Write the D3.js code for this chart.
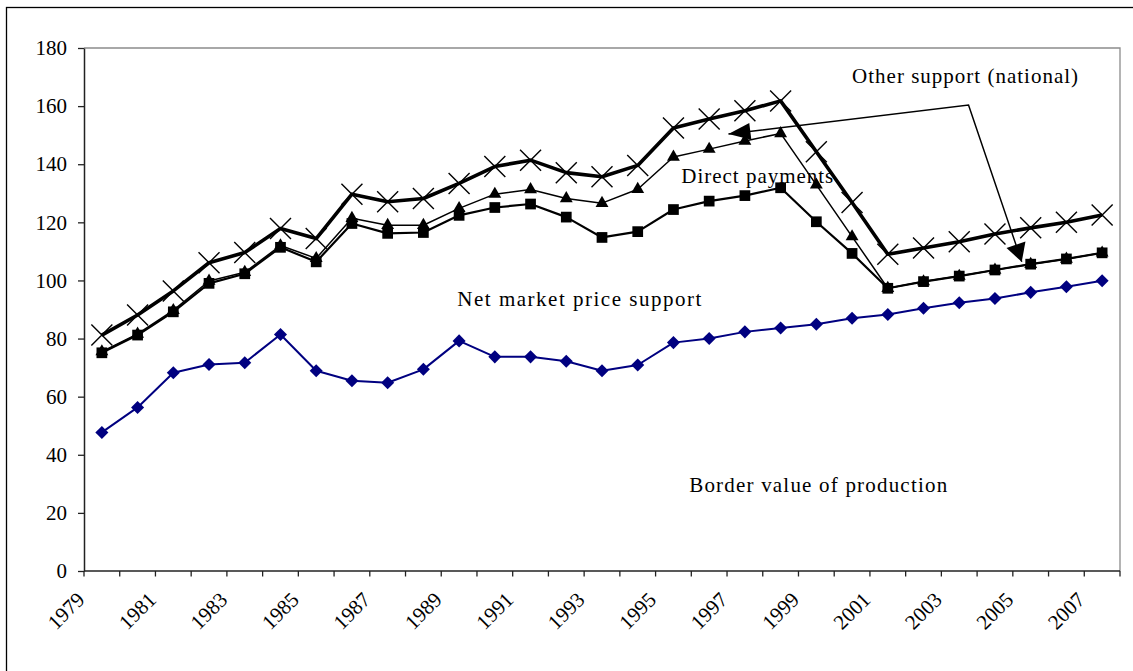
<!DOCTYPE html>
<html>
<head>
<meta charset="utf-8">
<script src="https://cdn.jsdelivr.net/npm/d3@7/dist/d3.min.js"></script>
<style>
  html, body { margin: 0; padding: 0; background: #fff; }
  svg { display: block; }
  text { font-family: "Liberation Serif", "Times New Roman", serif; fill: #000; }
</style>
</head>
<body>
<svg id="chart" width="1133" height="671"></svg>
<script>
// ---- Data ----
const years = d3.range(1979, 2008).map(String);
const tickLabels = years.filter((y, i) => i % 2 === 0);
const yTicks = [0, 20, 40, 60, 80, 100, 120, 140, 160, 180];

const borderValue = [47.7, 56.3, 68.2, 71.1, 71.7, 81.4, 68.9, 65.5, 64.8, 69.4,
  79.2, 73.7, 73.7, 72.2, 68.9, 70.9, 78.6, 80.0, 82.3, 83.6,
  84.9, 87.0, 88.3, 90.4, 92.3, 93.8, 95.9, 97.8, 99.9];
const netMarketPrice = [75.1, 81.2, 89.2, 99.0, 102.3, 111.4, 106.4, 119.6, 116.2, 116.5,
  122.4, 125.1, 126.3, 121.8, 114.8, 116.8, 124.4, 127.3, 129.2, 131.9,
  120.2, 109.3, 97.3, 99.6, 101.5, 103.6, 105.6, 107.4, 109.5];
const directPayments = [75.5, 81.6, 89.7, 99.8, 102.8, 112.0, 107.6, 121.4, 119.0, 119.0,
  124.8, 129.7, 131.3, 128.2, 126.6, 131.4, 142.5, 145.2, 148.0, 150.6,
  132.9, 115.1, 97.3, 99.6, 101.5, 103.6, 105.6, 107.4, 109.5];
const otherSupport = [81.2, 88.1, 96.4, 106.1, 109.6, 117.9, 114.4, 129.7, 127.1, 128.2,
  133.4, 139.2, 141.4, 137.1, 135.7, 139.6, 152.5, 155.6, 158.4, 161.8,
  144.3, 126.8, 109.0, 111.2, 113.3, 116.0, 118.1, 120.0, 122.5];

// Annotation labels (x: category index position, y: value)
const labels = [
  { text: "Other support (national)", x: 21.0, y: 167.8, len: 226 },
  { text: "Direct payments", x: 16.22, y: 133.6, len: 152 },
  { text: "Net market price support", x: 9.95, y: 91.2, len: 244 },
  { text: "Border value of production", x: 16.44, y: 27.3, len: 258 }
];
// Arrow path (category index, value) from "Other support" label
const arrowPts = [[17.54, 150.4], [24.26, 160.4], [25.75, 106.4]];

// ---- Layout ----
const svg = d3.select("#chart");
const L = 84, R = 1120, T = 48, B = 571;

// outer frame
svg.append("rect").attr("x", 6.5).attr("y", 7.5).attr("width", 1300).attr("height", 900)
  .attr("fill", "none").attr("stroke", "#000").attr("stroke-width", 1.3);

const x = d3.scaleBand().domain(years).range([L, R]).padding(0);
const y = d3.scaleLinear().domain([0, 180]).range([B, T]);
const xc = d => x(d) + x.bandwidth() / 2;
const xi = i => L + (i + 0.5) * x.bandwidth();

// plot area top/right border (gray)
svg.append("path").attr("d", `M${L},${T}H${R}V${B}`).attr("fill", "none")
  .attr("stroke", "#8c8c8c").attr("stroke-width", 1.3);

// Y axis
const yAxis = svg.append("g").attr("transform", `translate(${L},0)`)
  .call(d3.axisLeft(y).tickValues(yTicks).tickSize(6).tickPadding(11).tickSizeOuter(0));
yAxis.select(".domain").attr("stroke", "#222").attr("stroke-width", 1.5);
yAxis.selectAll(".tick line").attr("stroke", "#222").attr("stroke-width", 1.3);
yAxis.selectAll("text").style("font-family", "Liberation Serif").style("font-size", "21px").attr("fill", "#000");

// X axis with ticks at category boundaries
const xg = svg.append("g").attr("transform", `translate(0,${B})`);
xg.append("line").attr("x1", L).attr("x2", R).attr("stroke", "#222").attr("stroke-width", 1.5);
const bounds = years.map(d => x(d)).concat([R]);
xg.selectAll("line.tk").data(bounds).enter().append("line").attr("class", "tk")
  .attr("x1", d => d).attr("x2", d => d).attr("y1", 0).attr("y2", 5.5)
  .attr("stroke", "#222").attr("stroke-width", 1.3);
xg.selectAll("text.xl").data(tickLabels).enter().append("text").attr("class", "xl")
  .attr("transform", d => `translate(${xc(d) - 16},${30}) rotate(-45)`)
  .attr("text-anchor", "end").style("font-size", "21px").text(d => d);

// ---- Series ----
const line = d3.line().x((d, i) => xi(i)).y(d => y(d));

function drawLine(data, color, width) {
  svg.append("path").datum(data).attr("d", line).attr("fill", "none")
    .attr("stroke", color).attr("stroke-width", width).attr("stroke-linejoin", "round");
}

// X series (other support)
drawLine(otherSupport, "#000", 3.6);
const xs = 10.5;
svg.append("g").selectAll("path").data(otherSupport).enter().append("path")
  .attr("d", (d, i) => {
    const cx = xi(i), cy = y(d);
    return `M${cx - xs},${cy - xs}L${cx + xs},${cy + xs}M${cx - xs},${cy + xs}L${cx + xs},${cy - xs}`;
  })
  .attr("stroke", "#000").attr("stroke-width", 1.4).attr("fill", "none");

// Triangles (direct payments)
drawLine(directPayments, "#000", 1.5);
svg.append("g").selectAll("path").data(directPayments).enter().append("path")
  .attr("d", d3.symbol(d3.symbolTriangle, 72))
  .attr("transform", (d, i) => `translate(${xi(i)},${y(d)})`).attr("fill", "#000");

// Squares (net market price support)
drawLine(netMarketPrice, "#000", 2.2);
svg.append("g").selectAll("path").data(netMarketPrice).enter().append("path")
  .attr("d", d3.symbol(d3.symbolSquare, 115))
  .attr("transform", (d, i) => `translate(${xi(i)},${y(d)})`).attr("fill", "#000");

// Diamonds (border value)
drawLine(borderValue, "#000080", 2);
svg.append("g").selectAll("path").data(borderValue).enter().append("path")
  .attr("d", d3.symbol(d3.symbolSquare, 85))
  .attr("transform", (d, i) => `translate(${xi(i)},${y(d)}) rotate(45)`).attr("fill", "#000080");

// ---- Annotations ----
const apx = arrowPts.map(p => [xi(p[0]), y(p[1])]);
svg.append("path").attr("d", d3.line()(apx)).attr("fill", "none")
  .attr("stroke", "#000").attr("stroke-width", 1.5);
function arrowHead(tip, from, len, half) {
  const dx = tip[0] - from[0], dy = tip[1] - from[1];
  const m = Math.hypot(dx, dy), ux = dx / m, uy = dy / m;
  const bx = tip[0] - ux * len, by = tip[1] - uy * len;
  const pts = [tip, [bx - uy * half, by + ux * half], [bx + uy * half, by - ux * half]];
  svg.append("path").attr("d", "M" + pts.map(p => p.join(",")).join("L") + "Z").attr("fill", "#000");
}
arrowHead(apx[0], apx[1], 22, 8.5);
arrowHead(apx[2], apx[1], 18, 10);

svg.append("g").selectAll("text").data(labels).enter().append("text")
  .attr("x", d => xi(d.x)).attr("y", d => y(d.y))
  .attr("textLength", d => d.len).attr("lengthAdjust", "spacing")
  .style("font-size", "21px").text(d => d.text);
</script>
</body>
</html>
